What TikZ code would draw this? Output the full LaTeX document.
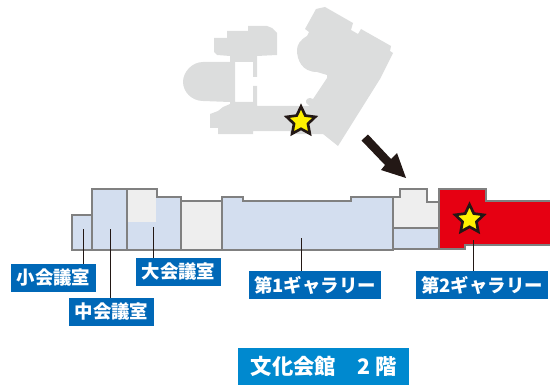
\documentclass[tikz,border=0pt]{standalone}
\usepackage{fontspec}
\setmainfont{Noto Sans CJK JP}
\usetikzlibrary{shapes.geometric}
\definecolor{sil}{HTML}{DCDDDD}
\definecolor{roomblue}{HTML}{D3DEEF}
\definecolor{roompale}{HTML}{EEEEEE}
\definecolor{wall}{HTML}{808080}
\definecolor{hot}{HTML}{E60012}
\definecolor{ink}{HTML}{231815}
\definecolor{tagblue}{HTML}{0068B7}
\definecolor{titleblue}{HTML}{0089CF}
\definecolor{staryellow}{HTML}{FFF100}
\tikzset{
  room/.style={draw=wall,line width=1.1pt,line join=miter},
  bluerm/.style={room,fill=roomblue},
  palerm/.style={room,fill=roompale},
  redrm/.style={room,fill=hot},
  tagbox/.style={fill=tagblue,text=white,font=\bfseries\fontsize{13.8}{14}\selectfont,inner sep=0pt,minimum height=21pt},
  titlebox/.style={fill=titleblue,text=white,font=\bfseries\fontsize{16}{16}\selectfont,inner sep=0pt,minimum height=27.75pt,minimum width=128.25pt},
  starmark/.style={star,star points=5,star point ratio=2.05,draw=ink,fill=staryellow,line width=2pt,minimum size=22.5pt,inner sep=0pt,line join=miter},
  leader/.style={draw=ink,line width=0.75pt}
}
\begin{document}
\begin{tikzpicture}[x=0.75pt,y=-0.75pt]
\useasboundingbox (0,0) rectangle (550,385);
% silhouette
\fill[sil] (218,134) -- (253,134) -- (253,131) -- (290,131) -- (290,134) -- (323,134) -- (338,146)
  -- (380,79) -- (393,53) -- (390,51) -- (391,46) -- (361,29) -- (358,34) -- (351,30) -- (353,23)
  -- (325,7) -- (316,9) -- (305,29) -- (309,32) -- (307,36)
  .. controls (300,40) and (297,45) .. (297,50)
  .. controls (297,60) and (302,72) .. (317,72)
  -- (327,75) -- (327,78) -- (313,99) -- (310,98)
  .. controls (306,98) and (305,102) .. (307,104) -- (310,106)
  -- (257,106) -- (257,86) -- (253,86) -- (253,102) -- (235,102) -- (235,62) -- (253,62) -- (253,77) -- (257,77) -- (257,56)
  -- (277,55) -- (277,33) -- (272,28) -- (267,26) -- (248,26) -- (248,31) -- (227,31) -- (227,38) -- (214,38)
  -- (214,52) -- (217,55) -- (230,56) -- (230,62) -- (203,62)
  .. controls (192,62) and (183,72) .. (183,82)
  .. controls (183,92) and (192,101) .. (203,101)
  -- (230,102) -- (230,104) -- (223,107) -- (218,111) -- (210,114) -- (210,128) -- (218,128) -- cycle;
\node[starmark] (staru) at (301,121.5) {};
% arrow
\fill[ink] (361.5,140.5) -- (368,134.5) -- (391,159) -- (397,153) -- (406,178) -- (381,170) -- (385,165) -- cycle;
% rooms
\draw[bluerm] (72,215) -- (92,215) -- (92,250) -- (72,250) -- cycle;
\draw[bluerm] (92,189) -- (127,189) -- (127,250) -- (92,250) -- cycle;
\draw[bluerm] (127,189) -- (157,189) -- (157,197) -- (181,197) -- (181,250) -- (127,250) -- cycle;
\fill[roompale] (128,190) rectangle (156,222);
\draw[palerm] (181,201) -- (222,201) -- (222,250) -- (181,250) -- cycle;
\draw[bluerm] (222,197) -- (243,197) -- (243,201) -- (351,201) -- (351,197) -- (393,197) -- (393,250) -- (222,250) -- cycle;
\draw[bluerm] (393,228) -- (439,228) -- (439,249) -- (393,249) -- cycle;
\draw[palerm] (393,228) -- (393,197) -- (400,197) -- (400,189) -- (427,189) -- (427,202) -- (439,202) -- (439,228) -- cycle;
\draw[redrm] (439,189) -- (486,189) -- (486,201) -- (552,201) -- (552,245) -- (465,245) -- (465,249) -- (439,249) -- cycle;
\node[starmark] (starr) at (469.5,219.5) {};
% tags
\node[tagbox,minimum width=63.75pt] (tagsmall) at (53.5,278) {小会議室};
\node[tagbox,minimum width=63.75pt] (tagmid) at (111.5,312) {中会議室};
\node[tagbox,minimum width=63.75pt] (taglarge) at (178.5,272) {大会議室};
\node[tagbox,minimum width=99pt] (taggal1) at (315,285) {第1ギャラリー};
\node[tagbox,minimum width=99pt] (taggal2) at (482,285) {第2ギャラリー};
\node[titlebox,anchor=north west] (title) at (238,348) {文化会館　2 階};
% leaders
\coordinate (psmall) at (83,229);
\coordinate (pmid) at (110,229);
\coordinate (plarge) at (153,227);
\coordinate (pgal1) at (301,238);
\coordinate (pgal2) at (473,240);
\draw[leader] (psmall) -- (psmall |- tagsmall.north);
\draw[leader] (pmid) -- (pmid |- tagmid.north);
\draw[leader] (plarge) -- (plarge |- taglarge.north);
\draw[leader] (pgal1) -- (pgal1 |- taggal1.north);
\draw[leader] (pgal2) -- (pgal2 |- taggal2.north);
\end{tikzpicture}
\end{document}
